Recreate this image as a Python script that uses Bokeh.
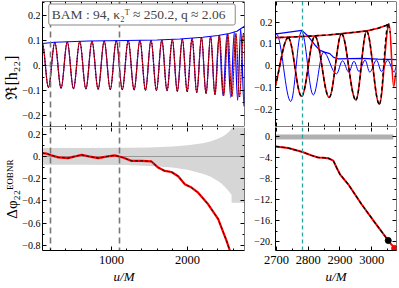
import numpy as np
from bokeh.plotting import figure
from bokeh.layouts import gridplot
from bokeh.models import (Range1d, LinearAxis, FixedTicker, CustomJSTickFormatter,
                          Label, Title, ColumnDataSource)
from bokeh.embed import file_html
from bokeh.resources import INLINE

FONT = "Liberation Serif"
RED = "#ff0000"
BLUE = "#0000ff"
TEAL = "#2aa3a3"

# ---------------- data ----------------
# EOB waveform (red): extrema of Re[h22] (u/M, value)
red_u = [90, 170, 254, 336, 418, 500, 582, 663, 743, 824,
         904, 984, 1063, 1142, 1220, 1297, 1374, 1447, 1520, 1591,
         1662, 1731, 1800, 1866, 1932, 1996, 2060, 2122, 2184, 2244,
         2304, 2362, 2420, 2476, 2531, 2584, 2637, 2684, 2737, 2779,
         2821, 2866, 2905, 2950, 2984, 3024, 3055, 3069, 3077]
red_h = [0.087, -0.089, 0.091, -0.092, 0.093, -0.094, 0.095, -0.095, 0.096, -0.096,
         0.097, -0.097, 0.098, -0.098, 0.099, -0.099, 0.100, -0.100, 0.100, -0.101,
         0.101, -0.102, 0.103, -0.104, 0.105, -0.106, 0.108, -0.109, 0.111, -0.113,
         0.115, -0.117, 0.119, -0.121, 0.123, -0.125, 0.127, -0.127, 0.128, -0.141,
         0.135, -0.146, 0.146, -0.158, 0.158, -0.177, 0.192, -0.097, -0.030]
# second model (black): follows red, ends earlier
blk_tail_u = [3052, 3059]
blk_tail_h = [0.190, 0.150]
blk_u = red_u[:46] + blk_tail_u
blk_h = red_h[:46] + blk_tail_h
# NR waveform (blue): follows red early on, then its own extrema
nr_tail_u = [2360, 2415, 2468, 2520, 2568, 2616, 2660, 2700, 2745, 2779,
             2816, 2848, 2889, 2908, 2928, 2944, 2960, 2979, 2994, 3015,
             3031, 3050, 3071, 3078]
nr_tail_h = [-0.116, 0.119, -0.122, 0.125, -0.129, 0.133, -0.140, 0.145, -0.165, 0.158,
             -0.135, 0.062, -0.038, 0.022, -0.030, 0.020, -0.027, 0.025, -0.030, 0.025,
             -0.027, 0.025, -0.030, 0.000]
blue_u = red_u[:31] + nr_tail_u
blue_h = red_h[:31] + nr_tail_h
# amplitudes
blue_env_u = [92, 250, 700, 1200, 1600, 1900, 2200, 2400, 2550, 2650, 2700, 2740,
              2780, 2800, 2821, 2837, 2852, 2868, 2880, 2895, 2930, 2970, 3020, 3078]
blue_env_a = [0.087, 0.092, 0.097, 0.099, 0.101, 0.105, 0.112, 0.119, 0.127, 0.136, 0.146, 0.154,
              0.162, 0.135, 0.095, 0.070, 0.062, 0.055, 0.038, 0.031, 0.032, 0.033, 0.030, 0.028]
red_env_u = [2600, 2697, 2740, 2780, 2820, 2860, 2900, 2950, 2985, 3020, 3045, 3055]
red_env_a = [0.125, 0.129, 0.131, 0.134, 0.137, 0.141, 0.146, 0.154, 0.160, 0.172, 0.185, 0.192]

# phase difference (left, lower)
dphi_u = [92, 150, 210, 300, 430, 520, 605, 700, 825, 950, 1043, 1150, 1263, 1395,
          1526, 1614, 1701, 1789, 1877, 1965, 2053, 2140, 2272, 2404, 2513, 2557, 2600]
dphi_v = [0.03, 0.025, 0.01, -0.008, -0.015, 0.0, 0.015, 0.0, -0.015, 0.0, 0.009, -0.01, -0.04, -0.04,
          -0.045, -0.10, -0.13, -0.14, -0.178, -0.25, -0.28, -0.326, -0.43, -0.563, -0.756, -0.845, -0.93]
band_u = [92, 600, 1200, 1500, 1800, 2000, 2200, 2300, 2400, 2450, 2500, 2550, 2579, 2580, 2650, 2750]
band_hi = [0.075, 0.075, 0.077, 0.081, 0.089, 0.10, 0.118, 0.135, 0.158, 0.175, 0.195, 0.225, 0.25, 0.25, 0.30, 0.36]
band_lo = [-0.075, -0.075, -0.078, -0.085, -0.10, -0.12, -0.155, -0.18, -0.22, -0.245, -0.28, -0.32,
           -0.345, -0.415, -0.415, -0.415]
align_marks = [200, 1100]

# phase difference (right, lower)
dphr_u = [2697, 2737, 2782, 2810, 2831, 2847, 2863, 2879, 2890, 2900, 2926, 2968, 3010, 3052]
dphr_v = [-1.9, -2.2, -2.96, -3.6, -4.0, -4.05, -4.15, -4.6, -6.0, -7.2, -9.1, -12.9, -16.4, -19.8]
dphr_red_u = dphr_u + [3072]
dphr_red_v = dphr_v + [-21.3]
band_r_u = [2697, 3068]
band_r_lo = [-0.6, -0.6]
band_r_hi = [0.35, 0.35]
merger_u = [2782]

# ticks
ytl_major = [-0.2, -0.1, 0, 0.1, 0.2]
ytl_minor = [-0.25, -0.15, -0.05, 0.05, 0.15, 0.25]
ybl_major = [-0.8, -0.6, -0.4, -0.2, 0, 0.2]
ybl_minor = [-0.7, -0.5, -0.3, -0.1, 0.1]
xl_major = [1000, 2000]
xl_minor = [200, 400, 600, 800, 1200, 1400, 1600, 1800, 2200, 2400, 2600]
xr_major = [2700, 2800, 2900, 3000]
xr_minor = [2750, 2850, 2950, 3050]
ybr_major = [-20, -16, -12, -8, -4, 0]
ybr_minor = [-18, -14, -10, -6, -2]

XL = (92, 2750)
XR = (2697, 3078)
YTL = (-0.245, 0.255)
YBL = (-0.845, 0.26)
YTR = (-0.28, 0.295)
YBR = (-21.7, 1.7)

# ---------------- helpers ----------------
def seg_src(u, h):
    u = np.asarray(u, float)
    h = np.asarray(h, float)
    d = (u[1:] - u[:-1]) * 0.3634
    return ColumnDataSource(dict(x0=u[:-1], y0=h[:-1], x1=u[1:], y1=h[1:],
                                 cx0=u[:-1] + d, cy0=h[:-1], cx1=u[1:] - d, cy1=h[1:]))


def wave(p, src, **kw):
    p.bezier(source=src, x0="x0", y0="y0", x1="x1", y1="y1",
             cx0="cx0", cy0="cy0", cx1="cx1", cy1="cy1", **kw)


def mkfig(xr, yr, fw, fh, bl, br, bt, bb):
    p = figure(x_range=Range1d(*xr), y_range=Range1d(*yr),
               frame_width=fw, frame_height=fh,
               min_border_left=bl, min_border_right=br,
               min_border_top=bt, min_border_bottom=bb,
               x_axis_location=None, y_axis_location=None, title=None,
               output_backend="svg", toolbar_location=None)
    p.outline_line_color = None
    p.grid.visible = False
    return p


YFMT = """
const r = Math.round(tick*1000)/1000;
if (r === 0) return "0.";
let s = Math.abs(r).toString();
if (Number.isInteger(r)) s = s + ".";
return (r < 0 ? "\\u2212" : "") + s;
"""
XFMT = "return tick.toFixed(0);"
NOFMT = "return '';"


def axis(p, side, ticks, minor, fmt=None, line=True, size="10px", tick_out=0,
         standoff=2, label=None, label_size="14px", label_style="normal", label_standoff=2):
    ax = LinearAxis(ticker=FixedTicker(ticks=ticks, minor_ticks=minor))
    ax.major_tick_in = 4
    ax.major_tick_out = tick_out
    ax.minor_tick_in = 2
    ax.minor_tick_out = 0
    ax.major_tick_line_color = "black"
    ax.minor_tick_line_color = "black"
    ax.axis_line_color = "black" if line else None
    if fmt is None:
        # tick-only frame side, drawn at the frame edge without taking space
        if side == "left":
            ax.fixed_location = p.x_range.start
        elif side == "right":
            ax.fixed_location = p.x_range.end
        elif side == "below":
            ax.fixed_location = p.y_range.start
        else:
            ax.fixed_location = p.y_range.end
        ax.formatter = CustomJSTickFormatter(code=NOFMT)
    else:
        ax.formatter = CustomJSTickFormatter(code=fmt)
        ax.major_label_text_font = FONT
        ax.major_label_text_font_size = size
        ax.major_label_text_color = "black"
        ax.major_label_standoff = standoff
        if label is not None:
            ax.axis_label = label
            ax.axis_label_text_font = FONT
            ax.axis_label_text_font_size = label_size
            ax.axis_label_text_font_style = label_style
            ax.axis_label_text_color = "black"
            ax.axis_label_standoff = label_standoff
    p.add_layout(ax, side)
    return ax


def ylabel(p, text, align, offset, size="15px"):
    p.add_layout(Title(text=text, text_font=FONT, text_font_size=size,
                       text_font_style="normal", text_color="black",
                       align=align, offset=offset, standoff=0), "left")


red_src = seg_src(red_u, red_h)
blk_src = seg_src(blk_u, blk_h)
blue_src = seg_src(blue_u, blue_h)

EM = "\u2003"

# ---------------- top-left ----------------
tl = mkfig(XL, YTL, 202, 125, 41, 3, 1, 1)
tl.hspan(y=[0], line_color="#999999", line_width=0.8)
wave(tl, blue_src, line_color=BLUE, line_width=1.2)
wave(tl, red_src, line_color=RED, line_width=1.0)
wave(tl, blk_src, line_color="black", line_width=0.9, line_dash="1 2")
tl.line(blue_env_u, blue_env_a, line_color=BLUE, line_width=1.1)
tl.vspan(x=align_marks, line_color="#777777", line_width=1.6, line_dash="6 4")
axis(tl, "left", ytl_major, ytl_minor, fmt=YFMT, size="10px", tick_out=0, standoff=2)
axis(tl, "right", ytl_major, ytl_minor)
axis(tl, "below", xl_major, xl_minor)
axis(tl, "above", xl_major, xl_minor)
ylabel(tl, "\u211c[h\u2082\u2082]", "left", 27, size="16px")
tl.add_layout(Label(x=99.5, y=112, x_units="screen", y_units="screen",
                    text="BAM : 94,  \u03ba\u2082\u1d40 \u2248 250.2,  q \u2248 2.06",
                    text_font=FONT, text_font_size="13.5px", text_align="center",
                    text_baseline="middle", background_fill_color="white",
                    border_line_color="#888888", border_line_width=1, padding=3,
                    border_radius=2))

# ---------------- bottom-left ----------------
bl = mkfig(XL, YBL, 202, 123, 41, 3, 0, 38)
bl.varea(x=band_u, y1=band_lo, y2=band_hi, fill_color="#d6d6d6")
bl.hspan(y=[0], line_color="#888888", line_width=0.8)
bl.line(dphi_u, dphi_v, line_color=RED, line_width=2.2)
bl.line(dphi_u, dphi_v, line_color="black", line_width=0.8, line_dash="3 2")
bl.vspan(x=align_marks, line_color="#777777", line_width=1.6, line_dash="6 4")
axis(bl, "left", ybl_major, ybl_minor, fmt=YFMT, size="10px", tick_out=0, standoff=2)
axis(bl, "right", ybl_major, ybl_minor)
axis(bl, "below", xl_major, xl_minor, fmt=XFMT, size="12.5px", standoff=5,
     label="u/M" + EM + EM + EM, label_size="13px", label_style="italic", label_standoff=2)
axis(bl, "above", xl_major, xl_minor, line=False)
ylabel(bl, "\u0394\u03c6\u2082\u2082\u1d31\u1d3c\u1d2e\u1d3a\u1d3f", "center", 0)

# ---------------- top-right ----------------
tr = mkfig(XR, YTR, 121, 125, 28, 1, 1, 1)
tr.hspan(y=[0], line_color="#999999", line_width=0.8)
wave(tr, blue_src, line_color=BLUE, line_width=1.0)
tr.line(blue_env_u, blue_env_a, line_color=BLUE, line_width=1.2)
wave(tr, red_src, line_color=RED, line_width=1.6)
tr.line(red_env_u, red_env_a, line_color=RED, line_width=1.6)
wave(tr, blk_src, line_color="black", line_width=1.4, line_dash="4 3")
tr.line(red_env_u, red_env_a, line_color="black", line_width=1.4, line_dash="4 3")
tr.vspan(x=merger_u, line_color=TEAL, line_width=1.3, line_dash="4 3")
axis(tr, "left", ytl_major, ytl_minor, fmt=YFMT, size="10px", tick_out=0, standoff=3)
axis(tr, "right", ytl_major, ytl_minor)
axis(tr, "below", xr_major, xr_minor)
axis(tr, "above", xr_major, xr_minor)

# ---------------- bottom-right ----------------
br = mkfig(XR, YBR, 121, 123, 28, 1, 0, 38)
br.varea(x=band_r_u, y1=band_r_lo, y2=band_r_hi, fill_color="#b0b0b0")
br.line(dphr_red_u, dphr_red_v, line_color=RED, line_width=2.0)
br.line(dphr_u, dphr_v, line_color="black", line_width=1.2, line_dash="4 2")
br.scatter([dphr_u[-1]], [dphr_v[-1]], size=6, fill_color="black", line_color="black")
br.scatter([dphr_red_u[-1]], [dphr_red_v[-1]], size=6, fill_color=RED, line_color=RED)
br.vspan(x=merger_u, line_color=TEAL, line_width=1.3, line_dash="4 3")
axis(br, "left", ybr_major, ybr_minor, fmt=YFMT, size="10px", tick_out=0, standoff=3)
axis(br, "right", ybr_major, ybr_minor)
axis(br, "below", xr_major, xr_minor, fmt=XFMT, size="12.5px", standoff=5,
     label="u/M", label_size="13px", label_style="italic", label_standoff=2)
axis(br, "above", xr_major, xr_minor, line=False)

grid = gridplot([[tl, tr], [bl, br]], toolbar_location=None)

open("out.html", "w").write(file_html(grid, INLINE))
